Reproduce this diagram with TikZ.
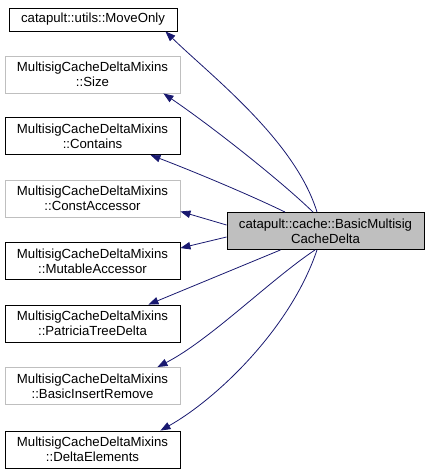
\documentclass[tikz,border=0pt]{standalone}
\usepackage{fontspec}
\setmainfont{Liberation Sans}
\usetikzlibrary{arrows.meta}
\definecolor{edgeblue}{HTML}{191970}
\definecolor{greyline}{HTML}{BFBFBF}
\definecolor{mainfill}{HTML}{BFBFBF}
\tikzset{
  box/.style={draw=black, line width=0.9pt, rectangle, inner sep=0pt, align=center,
    minimum width=175pt, minimum height=37pt, font=\fontsize{13.2}{15}\selectfont},
  greybox/.style={box, draw=greyline},
  onebox/.style={box, minimum width=168pt, minimum height=23pt},
  mainbox/.style={box, fill=mainfill, minimum width=197pt},
  edge/.style={draw=edgeblue, line width=0.8pt, -{Triangle[length=10pt,width=7.5pt]}},
}
\begin{document}
\begin{tikzpicture}[x=1pt,y=-1pt]
\useasboundingbox (0,0) rectangle (429,475);
\node[onebox] (moveonly) at (93,19.5) {catapult::utils::MoveOnly};
\node[greybox] (size) at (92.5,74.5) {MultisigCacheDeltaMixins\\::Size};
\node[box] (contains) at (92.5,136) {MultisigCacheDeltaMixins\\::Contains};
\node[greybox] (const) at (92.5,198.5) {MultisigCacheDeltaMixins\\::ConstAccessor};
\node[box] (mutable) at (92.5,261) {MultisigCacheDeltaMixins\\::MutableAccessor};
\node[box] (patricia) at (92.5,323.5) {MultisigCacheDeltaMixins\\::PatriciaTreeDelta};
\node[greybox] (insert) at (92.5,386) {MultisigCacheDeltaMixins\\::BasicInsertRemove};
\node[box] (delta) at (92.5,449.5) {MultisigCacheDeltaMixins\\::DeltaElements};
\node[mainbox] (main) at (325.5,231) {catapult::cache::BasicMultisig\\CacheDelta};

\draw[edge] ([xshift=-8.5pt]main.north) .. controls (295,140) and (210,75) .. ([xshift=-12pt]moveonly.south east);
\draw[edge] ([xshift=-12.5pt]main.north) .. controls (280,180) and (210,125) .. ([xshift=-17pt]size.south east);
\draw[edge] ([xshift=-40.5pt]main.north) .. controls (250,195) and (195,172) .. ([xshift=-30pt]contains.south east);
\draw[edge] ([yshift=6pt]main.west) -- ([yshift=6pt]const.south east);
\draw[edge] ([yshift=-6pt]main.west) -- ([yshift=-6pt]mutable.north east);
\draw[edge] ([xshift=-45pt]main.south) -- ([xshift=-32pt]patricia.north east);
\draw[edge] ([xshift=-10.5pt]main.south) .. controls (270,280) and (210,340) .. ([xshift=-23pt]insert.north east);
\draw[edge] ([xshift=-8.5pt]main.south) .. controls (290,330) and (215,400) .. ([xshift=-20pt]delta.north east);
\end{tikzpicture}
\end{document}
